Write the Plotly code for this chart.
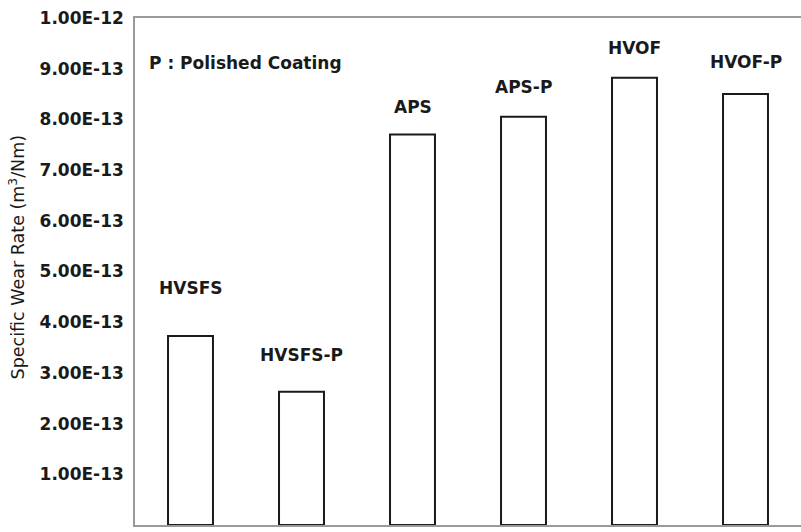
import plotly.graph_objects as go

# Specific wear rate of each coating (m^3/Nm)
coatings = ["HVSFS", "HVSFS-P", "APS", "APS-P", "HVOF", "HVOF-P"]
wear_rate = [3.73e-13, 2.63e-13, 7.70e-13, 8.05e-13, 8.82e-13, 8.50e-13]

# y-axis ticks
tick_vals = [i * 1e-13 for i in range(11)]
tick_text = ["0.00E+00"] + ["%d.00E-13" % i for i in range(1, 10)] + ["1.00E-12"]

# pixel offset of each category label above its bar
label_shift = [48, 37, 28, 30, 30, 32]

BOLD = dict(family="DejaVu Sans", size=17, color="#1a1a1a", weight="bold")

fig = go.Figure()
fig.add_trace(go.Bar(
    x=coatings, y=wear_rate,
    marker=dict(color="white", line=dict(color="#1a1a1a", width=2)),
    showlegend=False,
))

for name, val, dy in zip(coatings, wear_rate, label_shift):
    fig.add_annotation(x=name, y=val, text=name, showarrow=False,
                       yshift=dy, yanchor="middle", font=BOLD)

fig.add_annotation(x=0.018, xref="paper", y=0.911, yref="paper", xanchor="left",
                   yanchor="middle", text="P : Polished Coating", showarrow=False,
                   font=BOLD)

# y-axis title, drawn as a rotated annotation so it can sit slightly above centre
fig.add_annotation(x=-0.177, xref="paper", y=0.528, yref="paper",
                   xanchor="center", yanchor="middle", textangle=-90,
                   text="Specific Wear Rate (m<sup>3</sup>/Nm)", showarrow=False,
                   font=dict(family="DejaVu Sans", size=17.5, color="#1a1a1a"))

fig.update_layout(
    width=801, height=532,
    margin=dict(l=135, r=0, t=18, b=7),
    paper_bgcolor="white", plot_bgcolor="white",
    bargap=0.595,
    font=dict(family="DejaVu Sans", color="#1a1a1a"),
)
fig.update_xaxes(showticklabels=False, showline=True, linecolor="#9a9a9a", linewidth=1.5,
                 mirror=True, ticks="", showgrid=False)
fig.update_yaxes(range=[0, 1e-12], tickvals=tick_vals, ticktext=tick_text,
                 tickfont=BOLD,
                 showline=True, linecolor="#9a9a9a", linewidth=1.5, ticks="",
                 showgrid=False, zeroline=False, ticklabelstandoff=6)

fig.write_html("out.html")
